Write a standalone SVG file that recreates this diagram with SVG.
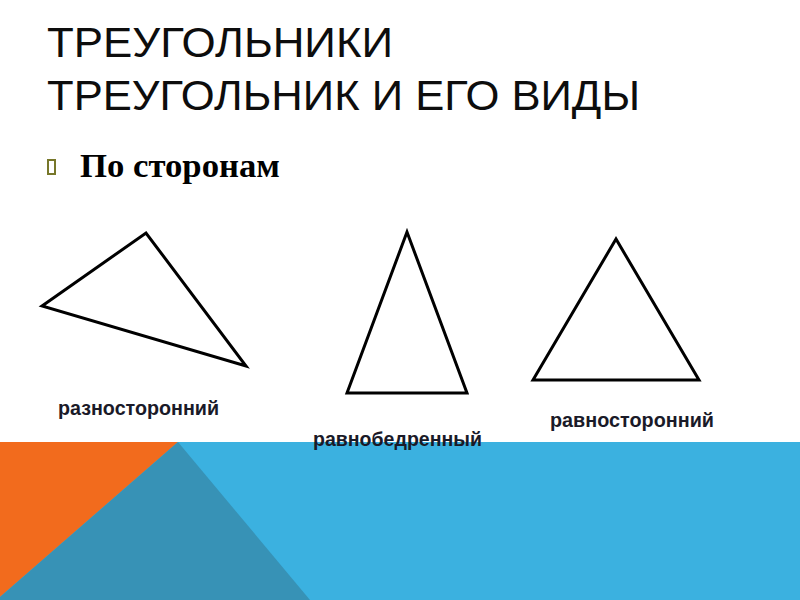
<svg xmlns="http://www.w3.org/2000/svg" width="800" height="600" viewBox="0 0 800 600">
<style>
.title{font-family:"Liberation Sans",Arial,sans-serif;font-size:42px;fill:#0d0d0d}
.sub{font-family:"Liberation Serif","Times New Roman",serif;font-weight:bold;font-size:34px;fill:#000}
.lbl{font-family:"Liberation Sans",Arial,sans-serif;font-weight:bold;font-size:20px;fill:#1a1a28}
.tri{fill:none;stroke:#000;stroke-width:3;stroke-linejoin:miter}
</style>
<rect width="800" height="600" fill="#fff"/>
<g id="background">
<rect x="0" y="442" width="800" height="158" fill="#3bb1e0"/>
<polygon points="0,442 178,442 0,597" fill="#f26b1d"/>
<polygon points="178,442 310,600 0,600 0,597" fill="#3792b6"/>
</g>
<g id="title">
<text class="title" x="47" y="57" textLength="346" lengthAdjust="spacingAndGlyphs">ТРЕУГОЛЬНИКИ</text>
<text class="title" x="47" y="110" textLength="593" lengthAdjust="spacingAndGlyphs">ТРЕУГОЛЬНИК И ЕГО ВИДЫ</text>
</g>
<g id="subtitle">
<rect x="48" y="160" width="7" height="14" fill="none" stroke="#77772a" stroke-width="2"/>
<text class="sub" x="80" y="177" textLength="200" lengthAdjust="spacingAndGlyphs">По сторонам</text>
</g>
<g id="scalene">
<polygon class="tri" points="42,306 146,233 246,366"/>
<text class="lbl" x="58" y="415" textLength="161" lengthAdjust="spacingAndGlyphs">разносторонний</text>
</g>
<g id="isosceles">
<polygon class="tri" points="407,232 347,393 467,393"/>
<text class="lbl" x="313" y="446" textLength="169" lengthAdjust="spacingAndGlyphs">равнобедренный</text>
</g>
<g id="equilateral">
<polygon class="tri" points="616,239 533,380 699,380"/>
<text class="lbl" x="550" y="427" textLength="164" lengthAdjust="spacingAndGlyphs">равносторонний</text>
</g>
<g id="connectors"/>
</svg>
